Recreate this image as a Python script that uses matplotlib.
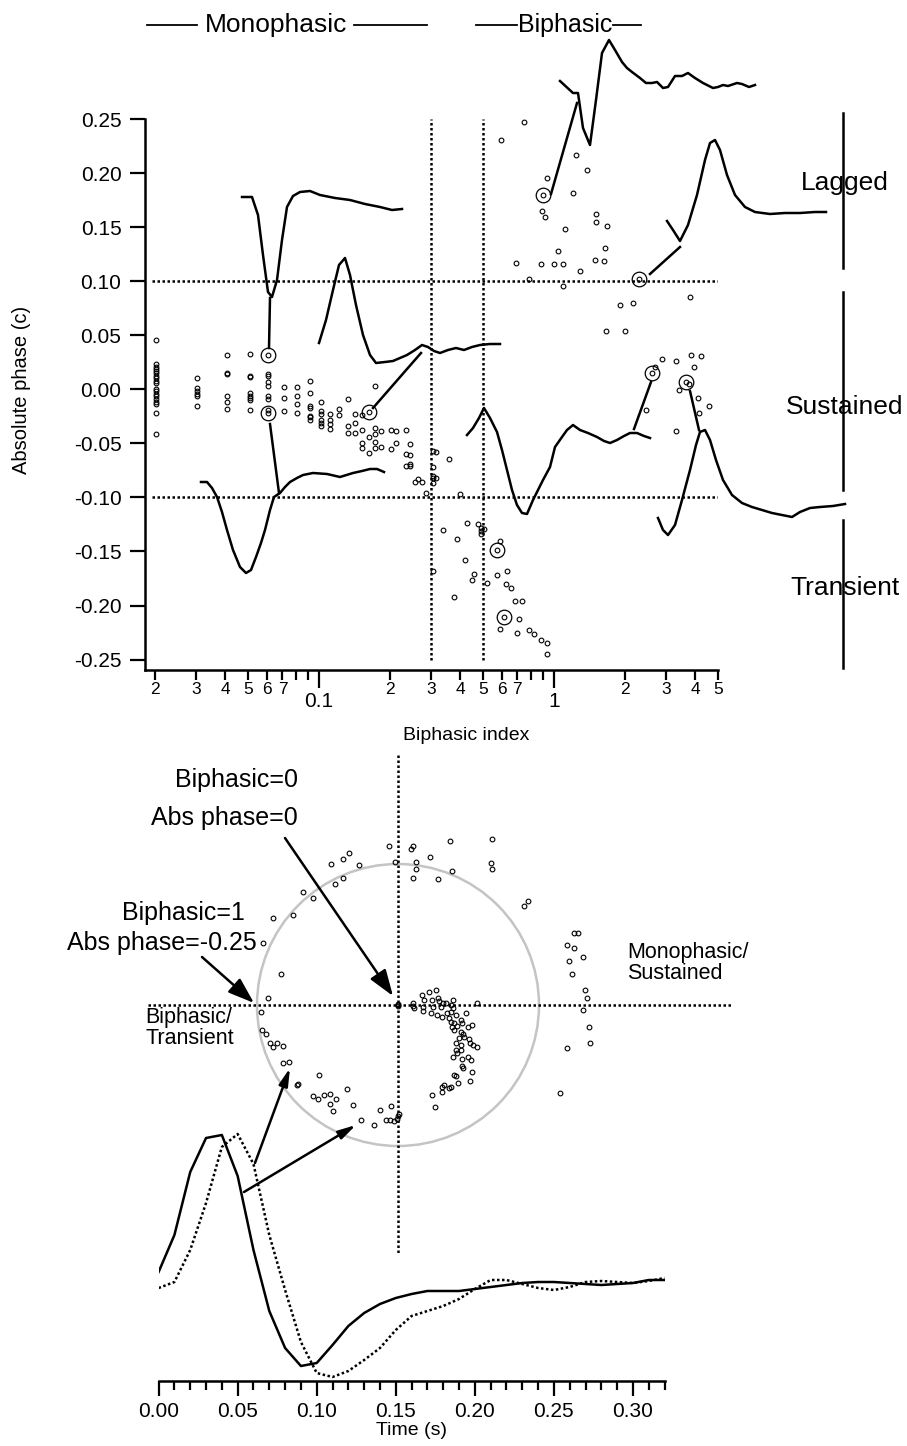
import numpy as np
import matplotlib.pyplot as plt
from matplotlib.ticker import FixedLocator, FixedFormatter
from matplotlib.patches import Circle

plt.rcParams['font.family'] = ['Liberation Sans', 'DejaVu Sans']
plt.rcParams['axes.unicode_minus'] = False

# ---- top panel: biphasic index vs absolute phase (cycles) ----
bi_x = ([0.0202] * 19 + [0.0304] * 6 + [0.0406] * 6 + [0.0507] * 8 + [0.061] * 9 +
        [0.071] * 3 + [0.081] * 4 + [0.0915] * 7 + [0.102] * 6 + [0.112] * 4 +
        [0.122] * 2 + [0.133] * 3 + [0.143] * 3 + [0.152] * 4 + [0.164] * 3 +
        [0.173] * 5 + [0.183] * 2 + [0.203] * 2 + [0.213] * 2 + [0.235] * 2 +
        [0.236, 0.244, 0.244, 0.244, 0.244, 0.256, 0.264, 0.276, 0.286] +
        [0.306] * 6 + [0.316] * 2 +
        [0.338, 0.358, 0.376, 0.389, 0.398, 0.418, 0.429, 0.449, 0.458, 0.476,
         0.489, 0.492, 0.492, 0.506, 0.521, 0.571, 0.571, 0.590, 0.592, 0.613,
         0.624, 0.634, 0.655, 0.683, 0.695, 0.713, 0.735, 0.787, 0.824, 0.883,
         0.94, 0.94] +
        [0.594, 0.745, 1.238, 1.383, 0.94, 0.90, 1.202, 0.893, 0.92, 1.507,
         1.507, 1.685, 1.114, 1.04, 1.65, 0.692, 0.879, 1.0, 1.093, 1.493,
         1.64, 1.294, 0.787, 1.093, 2.315, 1.92, 2.18, 1.667, 2.0, 3.81] +
        [2.874, 2.69, 2.63, 3.30, 3.85, 4.25, 3.94, 3.66, 3.76, 3.40, 4.09,
         4.59, 2.48, 4.15, 3.30])
bi_y = ([0.046, 0.023, 0.021, 0.019, 0.017, 0.015, 0.012, 0.010, 0.008, 0.006,
         0.000, -0.002, -0.004, -0.006, -0.009, -0.012, -0.014, -0.022, -0.041] +
        [0.010, 0.001, -0.002, -0.004, -0.006, -0.015] +
        [0.032, 0.015, 0.014, -0.006, -0.012, -0.018] +
        [0.033, 0.012, 0.011, -0.003, -0.006, -0.008, -0.010, -0.019] +
        [0.032, 0.014, 0.012, 0.007, 0.003, -0.006, -0.009, -0.019, -0.022] +
        [0.002, -0.008, -0.020] +
        [0.002, -0.006, -0.014, -0.022] +
        [0.008, -0.003, -0.015, -0.017, -0.025, -0.026, -0.028] +
        [-0.012, -0.020, -0.023, -0.028, -0.031, -0.034] +
        [-0.023, -0.028, -0.032, -0.037] +
        [-0.018, -0.024] +
        [-0.009, -0.034, -0.040] +
        [-0.023, -0.031, -0.040] +
        [-0.024, -0.038, -0.050, -0.054] +
        [-0.021, -0.044, -0.059] +
        [0.003, -0.036, -0.041, -0.049, -0.054] +
        [-0.039, -0.053] + [-0.038, -0.055] + [-0.039, -0.050] + [-0.038, -0.060] +
        [-0.071, -0.051, -0.061, -0.069, -0.071, -0.086, -0.083, -0.086, -0.096] +
        [-0.057, -0.072, -0.080, -0.082, -0.087, -0.168] + [-0.058, -0.082] +
        [-0.130, -0.064, -0.192, -0.138, -0.097, -0.158, -0.124, -0.176, -0.171, -0.125,
         -0.131, -0.128, -0.134, -0.129, -0.179, -0.149, -0.172, -0.140, -0.222, -0.211,
         -0.180, -0.168, -0.184, -0.196, -0.225, -0.212, -0.196, -0.223, -0.226, -0.232,
         -0.235, -0.245] +
        [0.231, 0.247, 0.217, 0.203, 0.195, 0.180, 0.182, 0.165, 0.159, 0.162,
         0.155, 0.151, 0.148, 0.128, 0.131, 0.117, 0.116, 0.116, 0.116, 0.120,
         0.119, 0.109, 0.102, 0.096, 0.102, 0.078, 0.080, 0.054, 0.054, 0.085] +
        [0.028, 0.021, 0.015, 0.026, 0.032, 0.031, 0.021, 0.007, 0.005, -0.001,
         -0.008, -0.015, -0.019, -0.022, -0.039])

ring_x = [0.061, 0.061, 0.164, 0.90, 2.315, 2.63, 3.66, 0.571, 0.613]
ring_y = [0.032, -0.022, -0.021, 0.180, 0.102, 0.015, 0.007, -0.149, -0.211]

phase_ticks = [0.25, 0.20, 0.15, 0.10, 0.05, 0.00, -0.05, -0.10, -0.15, -0.20, -0.25]
phase_labels = ['0.25', '0.20', '0.15', '0.10', '0.05', '0.00', '-0.05', '-0.10', '-0.15', '-0.20', '-0.25']
minor_vals = [0.02, 0.03, 0.04, 0.05, 0.06, 0.07, 0.08, 0.09,
              0.2, 0.3, 0.4, 0.5, 0.6, 0.7, 0.8, 0.9, 2, 3, 4, 5]
minor_labels = ['2', '3', '4', '5', '6', '7', '', '',
                '2', '3', '4', '5', '6', '7', '', '', '2', '3', '4', '5']

# ---- bottom panel: polar plane (radius = biphasic index) ----
pol_x = [-0.064, 0.090, 0.104, 0.366, 0.669, -0.024, 0.130, 0.125, 0.109, 0.229, 0.286, 0.381, 0.662, 0.669,
         -0.478, -0.392, -0.348, -0.277, -0.449, -0.390, -0.674, -0.605, -0.745, -0.889, -0.957, 0.894, 0.922,
         -0.832, -0.920, -0.974, -0.962, -0.939, -0.908, -0.887, -0.861, -0.813, -0.813, -0.771, -0.719, -0.709,
         -0.563, -0.605, -0.565, -0.527, -0.480, -0.442, -0.482, -0.461, -0.362, -0.317, -0.262, -0.168, -0.128,
         -0.047, -0.087, -0.057, -0.028, -0.009, 0.000, 0.005,
         0.104, 0.109, 0.113, 0.170, 0.220, 0.267, 0.184, 0.180, 0.177, 0.243, 0.248, 0.284, 0.291, 0.303, 0.319, 0.343, 0.374, 0.392,
         0.232, 0.279, 0.314, 0.345, 0.374, 0.392, 0.409, 0.362, 0.374, 0.397, 0.444, 0.385, 0.416, 0.456, 0.485, 0.499, 0.522,
         0.397, 0.444, 0.463, 0.433, 0.468, 0.504, 0.409, 0.444, 0.511, 0.534, 0.563, 0.409, 0.444, 0.416, 0.392, 0.456, 0.496, 0.515,
         0.456, 0.463, 0.522, 0.397, 0.409, 0.426, 0.511, 0.326, 0.314, 0.362, 0.374, 0.312, 0.243, 0.262, 0.558,
         0.0, 0.0, 0.0,
         1.246, 1.274, 1.201, 1.246, 1.215, 1.310, 1.232, 1.328, 1.343, 1.314, 1.352, 1.201, 1.149, 1.362]
pol_y = [1.130, 1.104, 1.128, 1.163, 1.175, 1.017, 1.017, 0.962, 0.903, 1.047, 0.896, 0.953, 1.009, 0.965,
         0.998, 1.033, 1.080, 0.993, 0.858, 0.898, 0.799, 0.759, 0.638, 0.615, 0.437, 0.702, 0.740,
         0.217, 0.047, -0.047, -0.177, -0.206, -0.272, -0.300, -0.267, -0.288, -0.409, -0.402, -0.570, -0.560,
         -0.494, -0.645, -0.669, -0.638, -0.631, -0.664, -0.704, -0.752, -0.593, -0.707, -0.816, -0.849, -0.745,
         -0.716, -0.816, -0.818, -0.820, -0.806, -0.787, -0.775,
         0.012, -0.007, -0.024, 0.071, 0.095, 0.106, 0.035, -0.012, -0.043, 0.035, -0.012, 0.047, 0.028, -0.012, 0.012, 0.012, 0.000, 0.035,
         -0.054, -0.071, -0.083, -0.059, -0.047, -0.024, -0.071, -0.095, -0.118, -0.130, -0.106, -0.154, -0.149, -0.130, -0.059, -0.154, -0.144,
         -0.177, -0.194, -0.206, -0.236, -0.225, -0.243, -0.272, -0.284, -0.272, -0.284, -0.296, -0.319, -0.319, -0.343, -0.366, -0.385, -0.366, -0.390,
         -0.433, -0.449, -0.478, -0.496, -0.504, -0.556, -0.537, -0.567, -0.584, -0.591, -0.579, -0.615, -0.638, -0.721, 0.017,
         0.0, 0.004, -0.004,
         0.513, 0.509, 0.426, 0.402, 0.314, 0.338, 0.218, 0.104, 0.050, -0.033, -0.154, -0.305, -0.626, -0.270]

# impulse responses (time in s, arbitrary units)
t = [0.00, 0.01, 0.02, 0.03, 0.04, 0.05, 0.06, 0.07, 0.08, 0.09, 0.10, 0.11, 0.12,
     0.13, 0.14, 0.15, 0.16, 0.17, 0.18, 0.19, 0.20, 0.21, 0.22, 0.23, 0.24, 0.25,
     0.26, 0.27, 0.28, 0.29, 0.30, 0.31, 0.32]
resp_mono = [0.18, 0.55, 1.18, 1.52, 1.55, 1.14, 0.40, -0.21, -0.58, -0.76, -0.73, -0.55, -0.36,
             -0.23, -0.14, -0.08, -0.04, -0.01, -0.01, -0.01, 0.01, 0.03, 0.05, 0.07, 0.08, 0.08,
             0.07, 0.06, 0.05, 0.06, 0.07, 0.10, 0.10]
resp_bi = [0.02, 0.08, 0.40, 0.87, 1.43, 1.56, 1.26, 0.55, 0.00, -0.52, -0.83, -0.87, -0.81,
           -0.70, -0.58, -0.40, -0.26, -0.21, -0.16, -0.09, 0.01, 0.10, 0.10, 0.06, 0.02, 0.00,
           0.03, 0.08, 0.09, 0.08, 0.07, 0.09, 0.12]

# example waveforms drawn as insets (figure pixels)
w1_x = [242, 252, 258, 263, 268, 272, 277, 282, 287, 293, 300, 310, 320, 335, 350, 365, 380, 392, 402]
w1_y = [197, 197, 215, 255, 292, 297, 280, 240, 207, 196, 192, 191, 195, 198, 200, 204, 207, 210, 209]
w2_x = [319, 326, 333, 339, 345, 350, 356, 363, 370, 376, 385, 393, 400, 407, 415, 422, 428, 434, 440,
        448, 456, 464, 472, 480, 490, 500]
w2_y = [343, 320, 290, 265, 258, 275, 305, 335, 355, 363, 362, 361, 358, 355, 350, 345, 347, 351, 353,
        350, 348, 350, 347, 345, 344, 344]
w3_x = [201, 207, 212, 217, 222, 227, 233, 240, 246, 251, 256, 261, 265, 270, 274, 280, 285, 290,
        297, 303, 313, 327, 340, 353, 362, 370, 377, 384]
w3_y = [482, 482, 488, 497, 512, 530, 550, 567, 573, 570, 557, 543, 530, 510, 497, 493, 487, 482,
        478, 475, 473, 474, 477, 473, 471, 469, 469, 472]
w4_x = [467, 473, 479, 484, 490, 497, 502, 507, 512, 517, 522, 527, 533, 538, 543, 550, 555, 562,
        567, 573, 580, 588, 597, 604, 610, 617, 624, 630, 637, 644, 650]
w4_y = [435, 428, 418, 408, 418, 432, 450, 470, 490, 505, 513, 514, 500, 490, 480, 467, 447, 437,
        430, 425, 430, 433, 437, 441, 443, 440, 436, 433, 433, 436, 438]
w5_x = [560, 573, 578, 583, 590, 596, 602, 609, 615, 622, 627, 632, 640, 646, 652, 657, 663, 668,
        675, 682, 688, 695, 703, 713, 718, 723, 728, 737, 742, 749, 755]
w5_y = [81, 93, 93, 128, 145, 100, 53, 40, 50, 62, 68, 72, 78, 83, 83, 82, 88, 87,
        76, 76, 73, 78, 83, 88, 87, 85, 86, 83, 84, 87, 85]
w6_x = [667, 673, 680, 688, 697, 705, 710, 715, 720, 727, 735, 745, 755, 770, 785, 800, 815, 826]
w6_y = [221, 230, 241, 225, 195, 160, 143, 140, 150, 175, 195, 207, 212, 214, 213, 213, 212, 212]
w7_x = [658, 663, 668, 675, 682, 690, 696, 700, 705, 710, 716, 723, 732, 742, 752, 762, 772, 782,
        792, 800, 810, 820, 833, 845]
w7_y = [518, 530, 535, 525, 500, 470, 445, 432, 430, 440, 460, 480, 495, 503, 507, 510, 513, 515,
        517, 512, 508, 507, 506, 504]
links = [((269, 348), (270, 298)), ((270, 424), (279, 493)), ((373, 408), (421, 353)),
         ((551, 194), (577, 103)), ((650, 274), (680, 247)), ((651, 382), (634, 429)),
         ((690, 391), (699, 430))]

fig = plt.figure(figsize=(9.07, 14.46), dpi=100)

# top axes
ax = fig.add_axes([145 / 907, 1 - 670 / 1446, 573 / 907, 551 / 1446])
ax.set_facecolor('none')
ax.set_xscale('log')
ax.set_xlim(0.0182, 5.0)
ax.set_ylim(-0.2596, 0.25)
for s in ['top', 'right']:
    ax.spines[s].set_visible(False)
ax.spines['left'].set_linewidth(1.8)
ax.spines['bottom'].set_linewidth(1.8)
ax.yaxis.set_major_locator(FixedLocator(phase_ticks))
ax.yaxis.set_major_formatter(FixedFormatter(phase_labels))
ax.xaxis.set_major_locator(FixedLocator([0.1, 1]))
ax.xaxis.set_major_formatter(FixedFormatter(['0.1', '1']))
ax.xaxis.set_minor_locator(FixedLocator(minor_vals))
ax.xaxis.set_minor_formatter(FixedFormatter(minor_labels))
ax.tick_params(axis='y', which='major', length=11, width=1.6, labelsize=15, pad=6)
ax.tick_params(axis='x', which='major', length=13, width=1.6, labelsize=15, pad=3)
ax.tick_params(axis='x', which='minor', length=7, width=1.6, labelsize=12.5, pad=2)

dot = dict(color='black', lw=1.8, linestyle=(0, (1, 1)))
ax.plot([0.0195, 5.0], [0.1, 0.1], **dot)
ax.plot([0.0195, 5.0], [-0.1, -0.1], **dot)
ax.plot([0.3, 0.3], [-0.25, 0.25], **dot)
ax.plot([0.5, 0.5], [-0.25, 0.25], **dot)
ax.plot(bi_x, bi_y, 'o', ms=3.4, mfc='none', mec='black', mew=0.8, zorder=3)
ax.plot(ring_x, ring_y, 'o', ms=10.5, mfc='none', mec='black', mew=0.9, zorder=3)

# bottom time axes
ax_t = fig.add_axes([158.6 / 907, 1 - 1381 / 1446, 506 / 907, 281 / 1446])
ax_t.set_facecolor('none')
ax_t.set_xlim(0, 0.32)
ax_t.set_ylim(-0.91, 1.9)
for s in ['top', 'right', 'left']:
    ax_t.spines[s].set_visible(False)
ax_t.spines['bottom'].set_linewidth(1.8)
ax_t.set_yticks([])
ax_t.xaxis.set_major_locator(FixedLocator([0, 0.05, 0.10, 0.15, 0.20, 0.25, 0.30]))
ax_t.xaxis.set_major_formatter(FixedFormatter(['0.00', '0.05', '0.10', '0.15', '0.20', '0.25', '0.30']))
ax_t.xaxis.set_minor_locator(FixedLocator(np.arange(0, 0.325, 0.01)))
ax_t.tick_params(axis='x', which='major', length=11, width=1.6, labelsize=15, pad=4)
ax_t.tick_params(axis='x', which='minor', length=6.5, width=1.6)
ax_t.set_xlabel('Time (s)', fontsize=14, labelpad=1)
ax_t.plot(t, resp_mono, color='black', lw=1.8)
ax_t.plot(t, resp_bi, color='black', lw=1.8, linestyle=(0, (1, 1)))

# polar-plane overlay (unit circle = biphasic index 1)
ax_p = fig.add_axes([116 / 907, 1 - 1287 / 1446, 648.6 / 907, 564 / 1446])
ax_p.set_xlim(-2.0, 2.6)
ax_p.set_ylim(-2.0, 2.0)
ax_p.axis('off')
ax_p.add_patch(Circle((0, 0), 1.0, fill=False, color='#c4c4c4', lw=1.8))
ax_p.plot([-1.773, 2.376], [0, 0], **dot)
ax_p.plot([0, 0], [1.773, -1.773], **dot)
ax_p.plot(pol_x, pol_y, 'o', ms=3.4, mfc='none', mec='black', mew=0.8, zorder=3)

# pixel overlay for insets and annotations
ax_px = fig.add_axes([0, 0, 1, 1])
ax_px.set_xlim(0, 907)
ax_px.set_ylim(1446, 0)
ax_px.axis('off')
for wx, wy in [(w1_x, w1_y), (w2_x, w2_y), (w3_x, w3_y), (w4_x, w4_y),
               (w5_x, w5_y), (w6_x, w6_y), (w7_x, w7_y)]:
    ax_px.plot(wx, wy, color='black', lw=1.8, solid_joinstyle='round')
for (x0, y0), (x1, y1) in links:
    ax_px.plot([x0, x1], [y0, y1], color='black', lw=1.8)

# header labels
for x0, x1 in [(147, 197), (354, 427), (476, 517), (613, 641)]:
    ax_px.plot([x0, x1], [25, 25], color='black', lw=1.3)
ax_px.text(276, 25, 'Monophasic', fontsize=19, ha='center', va='center')
ax_px.text(565, 25, 'Biphasic', fontsize=18, ha='center', va='center')

# response class bars on the right
for y0, y1 in [(113, 268), (292, 490), (520, 668)]:
    ax_px.plot([843, 843], [y0, y1], color='black', lw=1.8)
ax_px.text(845, 183, 'Lagged', fontsize=19, ha='center', va='center')
ax_px.text(845, 407, 'Sustained', fontsize=19, ha='center', va='center')
ax_px.text(845, 588, 'Transient', fontsize=19, ha='center', va='center')

ax_px.text(22, 390, 'Absolute phase (c)', fontsize=14.5, rotation=90, ha='center', va='center')
ax_px.text(466, 735, 'Biphasic index', fontsize=14, ha='center', va='center')

# annotations in the polar panel
ax_px.text(298, 780, 'Biphasic=0', fontsize=18, ha='right', va='center')
ax_px.text(298, 818, 'Abs phase=0', fontsize=18, ha='right', va='center')
ax_px.text(183, 913, 'Biphasic=1', fontsize=18, ha='center', va='center')
ax_px.text(257, 943, 'Abs phase=-0.25', fontsize=18, ha='right', va='center')
ax_px.text(627, 963, 'Monophasic/\nSustained', fontsize=15.5, ha='left', va='center', linespacing=1.0)
ax_px.text(145, 1028, 'Biphasic/\nTransient', fontsize=15.5, ha='left', va='center', linespacing=1.0)

big = dict(arrowstyle='-|>,head_length=0.8,head_width=0.28', color='black', lw=1.8,
           shrinkA=0, shrinkB=0, mutation_scale=20)
ax_px.annotate('', xy=(393, 996), xytext=(285, 838), arrowprops=big)
ax_px.annotate('', xy=(254, 1003), xytext=(202, 957), arrowprops=big)
small = dict(arrowstyle='-|>,head_length=0.7,head_width=0.18', color='black', lw=1.8,
             shrinkA=0, shrinkB=0, mutation_scale=15)
ax_px.annotate('', xy=(290, 1068), xytext=(255, 1163), arrowprops=small)
ax_px.annotate('', xy=(356, 1125), xytext=(244, 1192), arrowprops=small)

fig.savefig('out.png', dpi=100)
